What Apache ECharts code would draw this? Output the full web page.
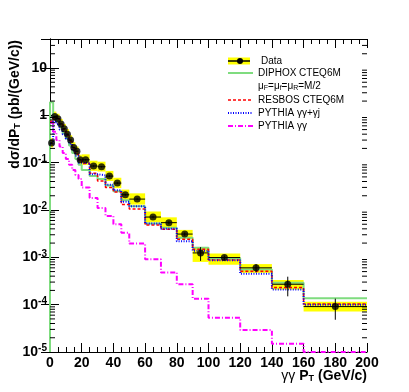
<!DOCTYPE html>
<html><head><meta charset="utf-8">
<script src="https://cdn.jsdelivr.net/npm/echarts@6/dist/echarts.min.js"></script>
<style>html,body{margin:0;padding:0;background:#fff}#c{width:409px;height:392px}</style>
</head><body><div id="c"></div>
<script>
// ---- data ----
const binEdges = [0,2,4,6,8,10,12,14,16,18,20,25,30,35,40,45,50,60,70,80,90,100,120,140,160,200];
const dataValues = [0.26,0.95,0.85,0.66,0.52,0.40,0.30,0.21,0.175,0.115,0.115,0.085,0.082,0.052,0.037,0.021,0.017,0.0071,0.0054,0.0031,0.00124,0.00099,0.0006,0.00027,0.000091];
const statErr = [0.01,0.02,0.02,0.015,0.012,0.01,0.008,0.006,0.005,0.004,0.004,0.003,0.003,0.002,0.0015,0.001,0.0007,0.0004,0.0004,0.00025,0.0004,0.0001,0.00012,0.00012,0.000043];
const sysLow  = [0.21,0.77,0.68,0.53,0.42,0.32,0.24,0.17,0.14,0.092,0.09,0.067,0.065,0.041,0.029,0.0165,0.013,0.0055,0.0042,0.0025,0.0008,0.0007,0.00047,0.00021,0.000072];
const sysHigh = [0.33,1.2,1.08,0.84,0.66,0.51,0.38,0.27,0.22,0.147,0.15,0.11,0.105,0.067,0.048,0.027,0.0225,0.0093,0.007,0.0038,0.0016,0.0012,0.00072,0.00033,0.000115];
const diphox   = [1.9,0.95,0.75,0.58,0.42,0.32,0.23,0.16,0.12,0.09,0.07,0.052,0.045,0.033,0.025,0.016,0.012,0.0052,0.0042,0.0026,0.0016,0.00096,0.00055,0.00029,0.000136];
const resbos   = [0.75,0.95,0.85,0.65,0.5,0.38,0.28,0.2,0.15,0.11,0.096,0.06,0.041,0.03,0.024,0.013,0.0105,0.0048,0.0039,0.0024,0.00148,0.00088,0.00051,0.00023,0.000103];
const pythiaGJ = [0.25,0.75,0.65,0.5,0.4,0.32,0.25,0.18,0.14,0.1,0.1,0.057,0.054,0.034,0.026,0.015,0.012,0.0052,0.004,0.0022,0.00138,0.00087,0.00045,0.00021,0.0001];
const pythiaGG = [0.7,0.45,0.3,0.22,0.16,0.12,0.09,0.07,0.055,0.045,0.03,0.018,0.011,0.0075,0.005,0.0033,0.00195,0.00091,0.00048,0.00027,0.000134,0.000053,0.000029,0.000015,0.00001];
const xTicks = [0,20,40,60,80,100,120,140,160,180,200];
const yMin = 1e-5, yMax = 41;

// ---- build ----
const FONT = "'Liberation Sans', Arial, sans-serif";
function steps(vals){ const p=[]; vals.forEach((v,i)=>{p.push([binEdges[i],v]);p.push([binEdges[i+1],v]);}); return p; }
const boxData = dataValues.map((v,i)=>[binEdges[i],binEdges[i+1],sysLow[i],sysHigh[i]]);
const errData = dataValues.map((v,i)=>[binEdges[i],binEdges[i+1],v,v-statErr[i],v+statErr[i]]);
const dotData = dataValues.map((v,i)=>[(binEdges[i]+binEdges[i+1])/2,v]);
const minorVals = [];
for(let d=-5; d<=1; d++) for(let m=2;m<=9;m++){ const v=m*Math.pow(10,d); if(v<yMax) minorVals.push([v]); }
const greenPts = [[binEdges[0],yMin]].concat(steps(diphox));

const chart = echarts.init(document.getElementById('c'), null, {renderer:'canvas'});
const axisLine = {show:true, lineStyle:{color:'#000', width:1}};
function yLab(v){ const e=Math.round(Math.log10(v)); if(e===0) return '1'; if(e===1) return '10'; return '10{s|'+e+'}'; }
chart.setOption({
  animation:false,
  backgroundColor:'#fff',
  grid:{left:50,right:42,top:39,bottom:40},
  xAxis:[
    {type:'value',min:xTicks[0],max:xTicks[xTicks.length-1],interval:20,position:'bottom',
     axisLine, splitLine:{show:false},
     axisTick:{inside:true,length:9,lineStyle:{color:'#000'}},
     minorTick:{show:true,splitNumber:4,length:5,lineStyle:{color:'#000'}},
     axisLabel:{margin:4,fontFamily:FONT,fontSize:14,fontWeight:'bold',color:'#000'}},
    {type:'value',min:xTicks[0],max:xTicks[xTicks.length-1],interval:20,position:'top',
     axisLine, splitLine:{show:false},
     axisTick:{inside:true,length:9,lineStyle:{color:'#000'}},
     minorTick:{show:true,splitNumber:4,length:5,lineStyle:{color:'#000'}},
     axisLabel:{show:false}}
  ],
  yAxis:[
    {type:'log',logBase:10,min:yMin,max:yMax,position:'left',axisLine,splitLine:{show:false},
     axisTick:{inside:true,length:9,lineStyle:{color:'#000'}},
     axisLabel:{margin:3,showMaxLabel:false,fontFamily:FONT,fontSize:14,fontWeight:'bold',color:'#000',
       formatter:yLab, rich:{s:{fontFamily:FONT,fontSize:10,fontWeight:'bold',verticalAlign:'top',padding:[0,0,7,0]}}}},
    {type:'log',logBase:10,min:yMin,max:yMax,position:'right',axisLine,splitLine:{show:false},
     axisTick:{inside:true,length:9,lineStyle:{color:'#000'}},axisLabel:{show:false}}
  ],
  series:[
    {type:'custom',name:'minor',z:5,silent:true,data:minorVals,encode:{y:0},
     renderItem:(p,api)=>{const v=api.value(0);const a=api.coord([xTicks[0],v]);const b=api.coord([xTicks[xTicks.length-1],v]);
       return {type:'group',children:[
         {type:'line',shape:{x1:a[0],y1:a[1],x2:a[0]+5,y2:a[1]},style:{stroke:'#000',lineWidth:1}},
         {type:'line',shape:{x1:b[0],y1:b[1],x2:b[0]-5,y2:b[1]},style:{stroke:'#000',lineWidth:1}}]};}},
    {type:'custom',name:'sys',z:1,data:boxData,encode:{x:[0,1],y:[2,3]},
     renderItem:(p,api)=>{const a=api.coord([api.value(0),api.value(3)]);const b=api.coord([api.value(1),api.value(2)]);
       return {type:'rect',shape:{x:a[0],y:a[1],width:b[0]-a[0],height:b[1]-a[1]},style:{fill:'#ffff00'}};}},
    {type:'line',name:'DIPHOX',z:2,data:greenPts,showSymbol:false,lineStyle:{color:'#7fdc7f',width:2}},
    {type:'line',name:'RESBOS',z:3,data:steps(resbos),showSymbol:false,lineStyle:{color:'#ff0000',width:1.5,type:[3,2]}},
    {type:'line',name:'PYTHIA gg+gj',z:3,data:steps(pythiaGJ),showSymbol:false,lineStyle:{color:'#0000ff',width:2,type:[1,1.5]}},
    {type:'line',name:'PYTHIA gg',z:3,data:steps(pythiaGG),showSymbol:false,lineStyle:{color:'#ff00ff',width:2,type:[5,2,1,2]}},
    {type:'custom',name:'err',z:4,data:errData,encode:{x:[0,1],y:[2,3,4]},
     renderItem:(p,api)=>{const l=api.coord([api.value(0),api.value(2)]);const r=api.coord([api.value(1),api.value(2)]);
       const xc=(l[0]+r[0])/2;const lo=api.coord([api.value(0),api.value(3)]);const hi=api.coord([api.value(0),api.value(4)]);
       return {type:'group',children:[
         {type:'line',shape:{x1:l[0],y1:l[1],x2:r[0],y2:r[1]},style:{stroke:'#000',lineWidth:1}},
         {type:'line',shape:{x1:xc,y1:lo[1],x2:xc,y2:hi[1]},style:{stroke:'#000',lineWidth:1}}]};}},
    {type:'scatter',name:'Data',z:6,data:dotData,symbol:'circle',symbolSize:7,itemStyle:{color:'#000'}}
  ],
  graphic:[
    {type:'text',x:15,y:40,rotation:Math.PI/2,style:{text:'dσ/dP{sub|T} (pb/(GeV/c))',font:'bold 14px '+FONT,fill:'#000',align:'right',verticalAlign:'middle',
      rich:{sub:{fontFamily:FONT,fontSize:9,fontWeight:'bold',verticalAlign:'bottom',padding:[6,0,0,0]}}}},
    {type:'text',x:367,y:376,style:{text:'{g|γγ} P{sub|T} (GeV/c)',font:'bold 14px '+FONT,fill:'#000',align:'right',verticalAlign:'middle',
      rich:{g:{fontFamily:FONT,fontSize:14,fontWeight:'normal'},sub:{fontFamily:FONT,fontSize:9,fontWeight:'bold',verticalAlign:'bottom',padding:[6,0,0,0]}}}},
    // legend
    {type:'rect',shape:{x:228,y:57.5,width:22,height:7},style:{fill:'#ffff00'}},
    {type:'line',shape:{x1:228,y1:61,x2:250,y2:61},style:{stroke:'#000',lineWidth:1.5}},
    {type:'circle',shape:{cx:240,cy:61,r:3},style:{fill:'#000'}},
    {type:'text',x:261,y:61,style:{text:'Data',font:'10px '+FONT,fill:'#000',verticalAlign:'middle'}},
    {type:'line',shape:{x1:228,y1:73,x2:253,y2:73},style:{stroke:'#7fdc7f',lineWidth:2}},
    {type:'text',x:258,y:73,style:{text:'DIPHOX CTEQ6M',font:'10px '+FONT,fill:'#000',verticalAlign:'middle'}},
    {type:'text',x:258,y:86,style:{text:'μ{s|F}=μ{s|f}=μ{s|R}=M/2',font:'10px '+FONT,fill:'#000',verticalAlign:'middle',
      rich:{s:{fontFamily:FONT,fontSize:7,verticalAlign:'bottom',padding:[5,0,0,0]}}}},
    {type:'line',shape:{x1:228,y1:100,x2:253,y2:100},style:{stroke:'#ff0000',lineWidth:1.5,lineDash:[3,2]}},
    {type:'text',x:258,y:100,style:{text:'RESBOS CTEQ6M',font:'10px '+FONT,fill:'#000',verticalAlign:'middle'}},
    {type:'line',shape:{x1:228,y1:113,x2:253,y2:113},style:{stroke:'#0000ff',lineWidth:2,lineDash:[1,1.5]}},
    {type:'text',x:258,y:113,style:{text:'PYTHIA γγ+γj',font:'10px '+FONT,fill:'#000',verticalAlign:'middle'}},
    {type:'line',shape:{x1:228,y1:126,x2:253,y2:126},style:{stroke:'#ff00ff',lineWidth:2,lineDash:[5,2,1,2]}},
    {type:'text',x:258,y:126,style:{text:'PYTHIA γγ',font:'10px '+FONT,fill:'#000',verticalAlign:'middle'}}
  ]
});
</script></body></html>
